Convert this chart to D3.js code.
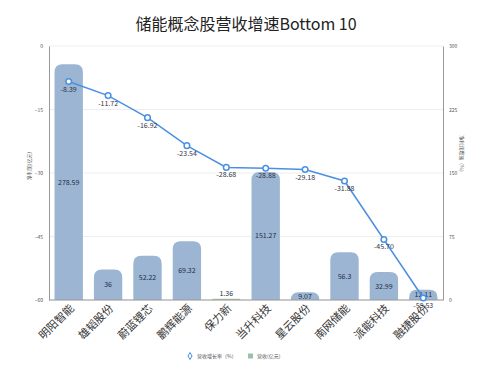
<!DOCTYPE html>
<html>
<head>
<meta charset="utf-8">
<script src="https://cdn.jsdelivr.net/npm/d3@7"></script>
<style>
  body { margin: 0; background: #fff; }
  text { font-family: "Noto Sans CJK SC", "Liberation Sans", sans-serif; }
</style>
</head>
<body>
<svg id="sg"></svg>
<script>
const categories = ["明阳智能", "雄韬股份", "蔚蓝锂芯", "鹏辉能源", "保力新", "当升科技", "星云股份", "南网储能", "派能科技", "融捷股份"];
const revenue = [278.59, 36, 52.22, 69.32, 1.36, 151.27, 9.07, 56.3, 32.99, 12.11];
const growth = [-8.39, -11.72, -16.92, -23.54, -28.68, -28.88, -29.18, -31.88, -45.70, -59.53];
const leftTicks = [0, -15, -30, -45, -60];
const rightTicks = [0, 75, 150, 225, 300];

let svgWidth = 500, svgHeight = 381;
let margin = { top: 46, right: 57, bottom: 81, left: 49 };
let width = svgWidth - margin.left - margin.right;
let height = svgHeight - margin.top - margin.bottom;

let svg = d3.select("#sg").attr("width", svgWidth).attr("height", svgHeight);

svg.append("text")
  .attr("x", 246).attr("y", 30)
  .attr("text-anchor", "middle")
  .attr("font-size", 16)
  .attr("fill", "#222")
  .text("储能概念股营收增速Bottom 10");

let g = svg.append("g")
  .attr("transform", "translate(" + margin.left + "," + margin.top + ")");

let x = d3.scaleBand().domain(categories).range([0, width]).paddingInner(0.28).paddingOuter(0.14);
let yL = d3.scaleLinear().domain([-60, 0]).range([height, 0]);
let yR = d3.scaleLinear().domain([0, 300]).range([height, 0]);

// grid
g.selectAll(".grid").data(leftTicks).enter().append("line")
  .attr("x1", 0).attr("x2", width)
  .attr("y1", d => yL(d)).attr("y2", d => yL(d))
  .attr("stroke", "#eeeeee").attr("stroke-width", 1);

// bars with rounded tops
function barPath(x0, w, yTop, yBot) {
  let h = yBot - yTop;
  let r = Math.min(8, h, w / 2);
  return "M" + x0 + "," + yBot +
    "V" + (yTop + r) +
    "Q" + x0 + "," + yTop + " " + (x0 + r) + "," + yTop +
    "H" + (x0 + w - r) +
    "Q" + (x0 + w) + "," + yTop + " " + (x0 + w) + "," + (yTop + r) +
    "V" + yBot + "Z";
}
let barData = categories.map((c, i) => ({ c: c, v: revenue[i] }));
g.selectAll(".bar").data(barData).enter().append("path")
  .attr("d", d => barPath(x(d.c), x.bandwidth(), yR(d.v), yR(0)))
  .attr("fill", d => d.v < 2 ? "#a9c79a" : "#9bb5d3");

g.selectAll(".barlabel").data(barData).enter().append("text")
  .attr("x", d => x(d.c) + x.bandwidth() / 2)
  .attr("y", d => d.v < 2 ? yR(0) - 4 : (yR(d.v) + yR(0)) / 2 + 2.5)
  .attr("text-anchor", "middle")
  .attr("font-size", 7)
  .attr("fill", "#1f2d44")
  .text(d => d.v);

// axes
let axisColor = "#999";
let yAxisL = g.append("g").call(d3.axisLeft(yL).tickValues(leftTicks).tickSize(0).tickPadding(6));
let yAxisR = g.append("g").attr("transform", "translate(" + width + ",0)")
  .call(d3.axisRight(yR).tickValues(rightTicks).tickSize(0).tickPadding(6));
[yAxisL, yAxisR].forEach(a => {
  a.select(".domain").attr("stroke", axisColor);
  a.selectAll("text").attr("font-size", 5).attr("fill", "#555");
});
g.append("line").attr("x1", 0).attr("x2", width).attr("y1", height).attr("y2", height)
  .attr("stroke", axisColor);

// x labels
g.selectAll(".xl").data(categories).enter().append("text")
  .attr("transform", d => "translate(" + (x(d) + x.bandwidth() / 2 + 6) + "," + (height + 9) + ") rotate(-45)")
  .attr("text-anchor", "end")
  .attr("font-size", 11)
  .attr("fill", "#333")
  .text(d => d);

// axis titles
svg.append("text")
  .attr("transform", "translate(31,166) rotate(-90)")
  .attr("text-anchor", "middle").attr("font-size", 5).attr("fill", "#555")
  .text("净利润(亿元)");
svg.append("text")
  .attr("transform", "translate(460,155) rotate(90)")
  .attr("text-anchor", "middle").attr("font-size", 5).attr("fill", "#555")
  .text("净利润增速（%）");

// line
let lineData = categories.map((c, i) => ({ c: c, v: growth[i] }));
let line = d3.line()
  .x(d => x(d.c) + x.bandwidth() / 2)
  .y(d => yL(d.v));
g.append("path").datum(lineData)
  .attr("fill", "none").attr("stroke", "#4a90e2").attr("stroke-width", 1.5)
  .attr("d", line);
g.selectAll(".pt").data(lineData).enter().append("circle")
  .attr("cx", d => x(d.c) + x.bandwidth() / 2)
  .attr("cy", d => yL(d.v))
  .attr("r", 2.8)
  .attr("fill", "#fff").attr("stroke", "#4a90e2").attr("stroke-width", 1.5);
g.selectAll(".ptl").data(lineData).enter().append("text")
  .attr("x", d => x(d.c) + x.bandwidth() / 2)
  .attr("y", d => yL(d.v) + 10)
  .attr("text-anchor", "middle")
  .attr("font-size", 7)
  .attr("fill", "#334")
  .text(d => d.v.toFixed(2));

// legend
let lg = svg.append("g").attr("transform", "translate(190,356)");
lg.append("path").attr("d", d3.symbol(d3.symbolDiamond, 14)())
  .attr("fill", "#fff").attr("stroke", "#4a90e2").attr("stroke-width", 1);
lg.append("text").attr("x", 7).attr("y", 2).attr("font-size", 5).attr("fill", "#555").text("营收增长率（%）");
lg.append("rect").attr("x", 58).attr("y", -2.5).attr("width", 5).attr("height", 5).attr("fill", "#9fbfa8");
lg.append("text").attr("x", 67).attr("y", 2).attr("font-size", 5).attr("fill", "#555").text("营收(亿元)");
</script>
</body>
</html>
